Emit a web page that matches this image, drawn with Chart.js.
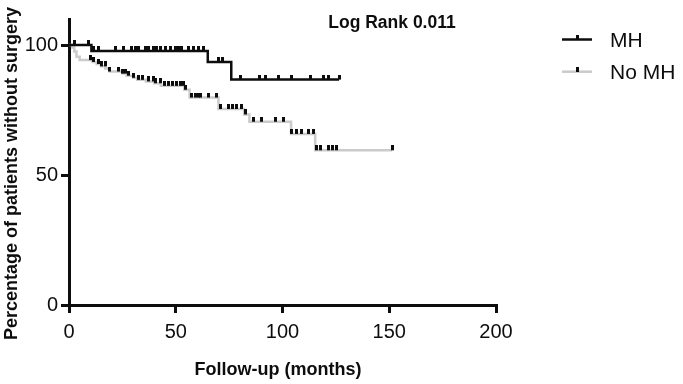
<!DOCTYPE html>
<html>
<head>
<meta charset="utf-8">
<script src="https://cdn.jsdelivr.net/npm/chart.js@4/dist/chart.umd.min.js"></script>
<style>
  html, body { margin: 0; padding: 0; background: #fff; }
  #km { display: block; }
</style>
</head>
<body>
<canvas id="km" width="683" height="384"></canvas>
<script>
// Kaplan-Meier: time to surgery, MH vs No MH
const xTicks = [0, 50, 100, 150, 200];
const yTicks = [0, 50, 100];

// step starts (months) and survival (%) from that month on
const mhMonths   = [0, 10.5, 65, 76, 126.5];
const mhSurvival = [100, 97.7, 93.5, 86.7, 86.7];
const mhCensored = [2.8, 9.1, 11.4, 13.7, 21.6, 25.5, 29.4, 31, 32.5, 35.7, 37.2, 39.5, 41.1,
  42.7, 45, 47.4, 49.7, 51.3, 52.8, 55.9, 58.3, 60.6, 63, 70, 72, 80.5, 89, 91.9, 98.1,
  104.4, 113, 119.2, 121.4, 126.5];

const noMhMonths   = [0, 1.5, 2.5, 3.5, 5, 11, 13, 15, 17, 19, 25, 27, 30, 32, 36, 40, 43,
  54, 56.5, 70, 82, 84.5, 104, 115.3, 151.3];
const noMhSurvival = [100, 99, 97.5, 95.5, 94.2, 93.5, 92.7, 91.8, 91, 89.8, 89, 88.2, 87.4,
  86.6, 86, 85.3, 84.3, 82.8, 79.8, 75.4, 73.3, 70.5, 65.8, 59.5, 59.5];
const noMhCensored = [10, 11.6, 13.7, 15.3, 16.9, 19.2, 23.1, 25, 26.3, 27.8, 30.2, 32.5, 34.5,
  37.2, 39.5, 40.3, 42.7, 44.5, 46.4, 48.3, 50.2, 52, 53.4, 54.4, 57.5, 59.1, 60.5, 61.4, 65.3,
  69.2, 70.8, 74.5, 76.4, 78.3, 81, 82.5, 86.4, 90.3, 96.6, 100.5, 104.4, 106.7, 109.1, 112.2,
  114.5, 116.1, 117.7, 121.6, 123.2, 125.2, 151.3];

const seriesLabels = ['MH', 'No MH'];
const logRankText = 'Log Rank 0.011';
const xTitle = 'Follow-up (months)';
const yTitle = 'Percentage of patients without surgery';

const FONT = '"Liberation Sans", Arial, sans-serif';
const INK = '#0d0d0d';
const GREY = '#cbcbcb';

function survivalAt(months, values, t) {
  let v = values[0];
  for (let i = 0; i < months.length; i++) {
    if (months[i] <= t) v = values[i];
  }
  return v;
}

const steps = (months, values) => months.map((m, i) => ({ x: m, y: values[i] }));
const censorPts = (cens, months, values) => cens.map(t => ({ x: t, y: survivalAt(months, values, t) }));

// censor tick: small vertical bar sitting on top of the curve
const tick = document.createElement('canvas');
tick.width = 3;
tick.height = 10;
const tctx = tick.getContext('2d');
tctx.fillStyle = INK;
tctx.fillRect(0, 0, 3, 5);

const overlay = {
  id: 'overlay',
  afterDraw(chart) {
    const ctx = chart.ctx;
    ctx.save();
    ctx.fillStyle = INK;

    ctx.font = 'bold 17.5px ' + FONT;
    ctx.textAlign = 'center';
    ctx.textBaseline = 'alphabetic';
    ctx.fillText(logRankText, 392, 28);

    ctx.font = 'bold 18px ' + FONT;
    ctx.fillText(xTitle, 278, 375);

    ctx.save();
    ctx.translate(17, 173.5);
    ctx.rotate(-Math.PI / 2);
    ctx.fillText(yTitle, 0, 0);
    ctx.restore();

    // legend
    const rows = [{ y: 39.5, color: INK, base: 47 }, { y: 71.7, color: GREY, base: 78.5 }];
    ctx.textAlign = 'left';
    ctx.font = '21px ' + FONT;
    rows.forEach((r, i) => {
      ctx.strokeStyle = r.color;
      ctx.lineWidth = 2.5;
      ctx.beginPath();
      ctx.moveTo(562, r.y);
      ctx.lineTo(592, r.y);
      ctx.stroke();
      ctx.drawImage(tick, 576, Math.round(r.y) - 5);
      ctx.fillStyle = INK;
      ctx.fillText(seriesLabels[i], 610, r.base);
    });
    ctx.restore();
  }
};

const axisFont = { family: FONT, size: 20 };

new Chart(document.getElementById('km'), {
  type: 'line',
  data: {
    datasets: [
      {
        label: seriesLabels[0] + ' censored',
        data: censorPts(mhCensored, mhMonths, mhSurvival),
        showLine: false,
        pointStyle: tick,
        pointRadius: 3,
        order: 0
      },
      {
        label: seriesLabels[1] + ' censored',
        data: censorPts(noMhCensored, noMhMonths, noMhSurvival),
        showLine: false,
        pointStyle: tick,
        pointRadius: 3,
        order: 1
      },
      {
        label: seriesLabels[0],
        data: steps(mhMonths, mhSurvival),
        stepped: true,
        borderColor: INK,
        borderWidth: 2.5,
        pointRadius: 0,
        order: 2
      },
      {
        label: seriesLabels[1],
        data: steps(noMhMonths, noMhSurvival),
        stepped: true,
        borderColor: GREY,
        borderWidth: 2.5,
        pointRadius: 0,
        order: 3
      }
    ]
  },
  options: {
    responsive: false,
    animation: false,
    devicePixelRatio: 1,
    layout: { padding: { top: 19, right: 187, bottom: 0, left: 0 } },
    plugins: {
      legend: { display: false },
      tooltip: { enabled: false }
    },
    scales: {
      x: {
        type: 'linear',
        min: 0,
        max: 200,
        afterBuildTicks: s => { s.ticks = xTicks.map(v => ({ value: v })); },
        afterFit: s => { s.height = 79; },
        ticks: { font: axisFont, color: INK, padding: 7, maxRotation: 0 },
        grid: { drawOnChartArea: false, drawTicks: true, tickLength: 8, color: INK, lineWidth: 3 },
        border: { display: true, color: INK, width: 3 }
      },
      y: {
        type: 'linear',
        min: 0,
        max: 110,
        afterBuildTicks: s => { s.ticks = yTicks.map(v => ({ value: v })); },
        afterFit: s => { s.width = 69; },
        ticks: { font: axisFont, color: INK, padding: 3 },
        grid: { drawOnChartArea: false, drawTicks: true, tickLength: 8, color: INK, lineWidth: 3 },
        border: { display: true, color: INK, width: 3 }
      }
    }
  },
  plugins: [overlay]
});
</script>
</body>
</html>
